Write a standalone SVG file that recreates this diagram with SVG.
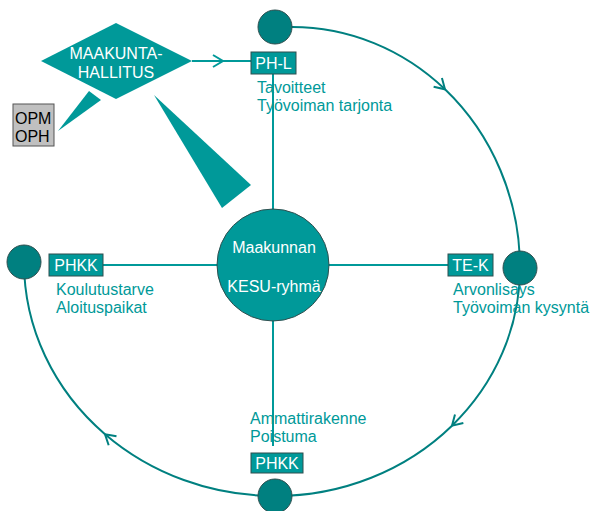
<svg xmlns="http://www.w3.org/2000/svg" width="593" height="511" viewBox="0 0 593 511">
<style>
text{font-family:"Liberation Sans",Arial,sans-serif;font-size:16px}
.w{fill:#fff}
.t{fill:#009999}
.k{fill:#000}
.box{fill:#009999;stroke:#2f4f4f;stroke-width:1}
.dot{fill:#008080;stroke:#2f4f4f;stroke-width:1}
.spoke{stroke:#009999;stroke-width:2;fill:none}
.arc{stroke:#008080;stroke-width:2;fill:none}
.wedge{fill:#009999}
</style>
<defs>
<marker id="chev" markerUnits="userSpaceOnUse" markerWidth="20" markerHeight="20" viewBox="-12 -10 14 20" refX="0" refY="0" orient="auto" overflow="visible">
<path d="M -10 -6 L 0 0 L -10 6" fill="none" stroke="#008080" stroke-width="2"/>
</marker>
<marker id="chev2" markerUnits="userSpaceOnUse" markerWidth="20" markerHeight="20" viewBox="-12 -10 14 20" refX="0" refY="0" orient="auto" overflow="visible">
<path d="M -10 -6 L 0 0 L -10 6" fill="none" stroke="#009999" stroke-width="2"/>
</marker>
</defs>
<rect width="593" height="511" fill="#fff"/>
<g id="connectors">
<path class="arc" d="M 292 27 A 228 241 0 0 1 445 89.3" marker-end="url(#chev)"/>
<path class="arc" d="M 445 89.3 A 228 241 0 0 1 520 268"/>
<path class="arc" d="M 520 268 A 245 228 0 0 1 452 425.7" marker-end="url(#chev)"/>
<path class="arc" d="M 452 425.7 A 245 228 0 0 1 275 496"/>
<path class="arc" d="M 275 496 A 251 234 0 0 1 105 434.2" marker-end="url(#chev)"/>
<path class="arc" d="M 105 434.2 A 251 234 0 0 1 24 262"/>
<path class="spoke" d="M 192 61 L 223 61" marker-end="url(#chev2)"/>
<path class="spoke" d="M 223 61 L 251 61"/>
<path class="spoke" d="M 273 74 L 273 210"/>
<path class="spoke" d="M 103 265 L 218 265"/>
<path class="spoke" d="M 328 265 L 448 265"/>
<path class="spoke" d="M 273 320 L 273 446"/>
<polygon class="wedge" points="89,91 101,100 58,131"/>
<polygon class="wedge" points="154,95 251,185 222,208"/>
</g>
<g id="maakuntahallitus">
<polygon points="41,61 116,23 192,61 116,99" fill="#009999"/>
<text class="w" x="116" y="59" text-anchor="middle">MAAKUNTA-</text>
<text class="w" x="116" y="78" text-anchor="middle">HALLITUS</text>
</g>
<g id="opm">
<rect x="13" y="104" width="41" height="42" fill="#c0c0c0" stroke="#555" stroke-width="1"/>
<text class="k" x="15" y="124">OPM</text>
<text class="k" x="15" y="142">OPH</text>
</g>
<g id="kesu">
<circle cx="273" cy="265" r="56" fill="#009999" stroke="#2f4f4f" stroke-width="1"/>
<text class="w" x="274" y="253" text-anchor="middle">Maakunnan</text>
<text class="w" x="274" y="292" text-anchor="middle">KESU-ryhmä</text>
</g>
<g id="node-top">
<circle class="dot" cx="275" cy="27" r="17"/>
<rect class="box" x="251" y="52" width="45" height="22"/>
<text class="w" x="273.5" y="69" text-anchor="middle">PH-L</text>
<text class="t" x="257" y="93">Tavoitteet</text>
<text class="t" x="257" y="111">Työvoiman tarjonta</text>
</g>
<g id="node-right">
<circle class="dot" cx="520" cy="268" r="17"/>
<rect class="box" x="448" y="254" width="45" height="22"/>
<text class="w" x="470.5" y="271" text-anchor="middle">TE-K</text>
<text class="t" x="453" y="295">Arvonlisays</text>
<text class="t" x="453" y="313">Työvoiman kysyntä</text>
</g>
<g id="node-bottom">
<circle class="dot" cx="275" cy="496" r="17"/>
<rect class="box" x="251" y="453" width="52" height="20"/>
<text class="w" x="277" y="469" text-anchor="middle">PHKK</text>
<text class="t" x="250" y="424">Ammattirakenne</text>
<text class="t" x="250" y="442">Poistuma</text>
</g>
<g id="node-left">
<circle class="dot" cx="24" cy="262" r="17"/>
<rect class="box" x="49" y="254" width="54" height="22"/>
<text class="w" x="76" y="271" text-anchor="middle">PHKK</text>
<text class="t" x="56" y="295">Koulutustarve</text>
<text class="t" x="56" y="313">Aloituspaikat</text>
</g>
</svg>
